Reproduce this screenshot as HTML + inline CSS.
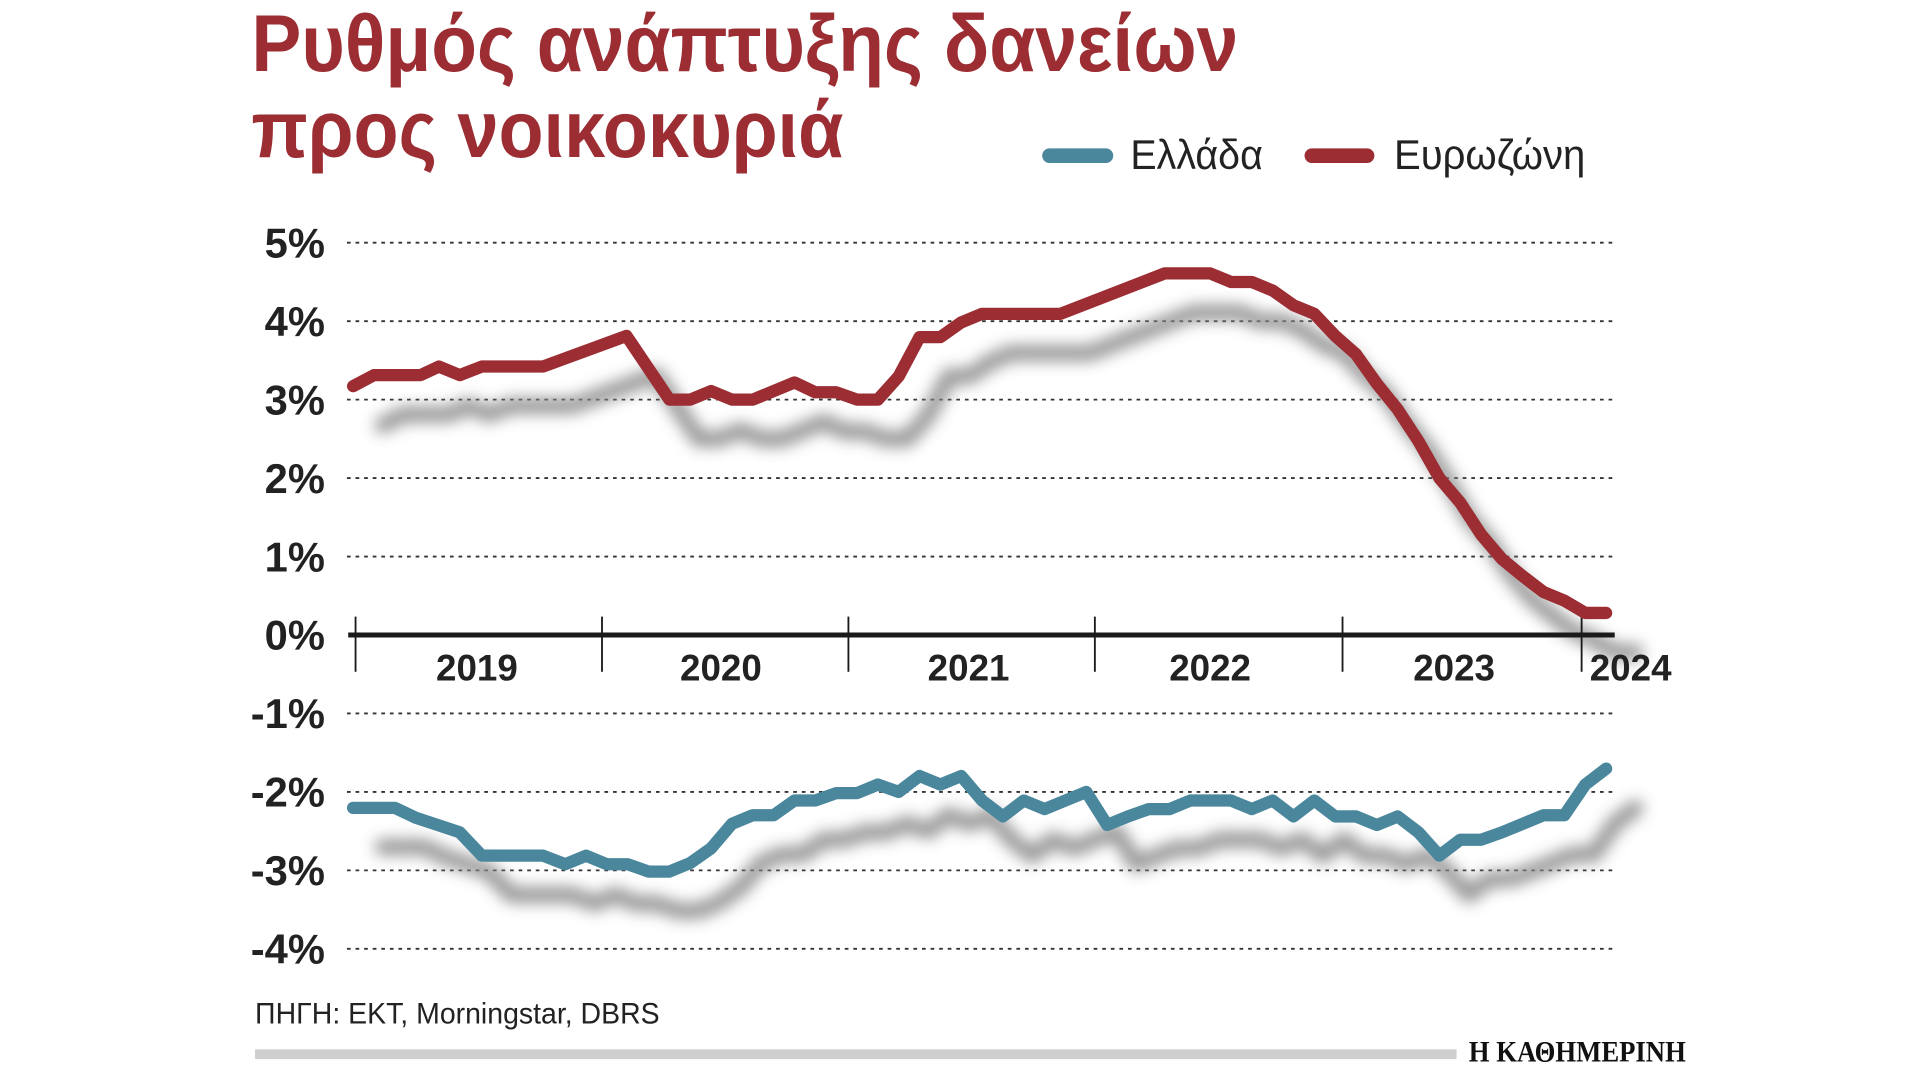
<!DOCTYPE html>
<html><head><meta charset="utf-8"><style>
html,body{margin:0;padding:0;background:#fff;}
svg{display:block;}
text{font-family:"Liberation Sans","DejaVu Sans",sans-serif;}
</style></head><body>
<svg width="1920" height="1080" viewBox="0 0 1566 881" preserveAspectRatio="none" xmlns="http://www.w3.org/2000/svg">
<defs>
<filter id="sh" x="-10%" y="-20%" width="120%" height="140%"><feGaussianBlur stdDeviation="6"/></filter>
</defs>
<text x="205" y="58" font-size="66" font-weight="bold" fill="#9b2d33" textLength="805" lengthAdjust="spacingAndGlyphs">Ρυθμός ανάπτυξης δανείων</text>
<text x="205" y="128" font-size="66" font-weight="bold" fill="#9b2d33" textLength="483" lengthAdjust="spacingAndGlyphs">προς νοικοκυριά</text>
<line x1="856" y1="127" x2="902" y2="127" stroke="#4a879d" stroke-width="12" stroke-linecap="round"/>
<text x="922" y="138" font-size="34" fill="#222" textLength="108" lengthAdjust="spacingAndGlyphs">Ελλάδα</text>
<line x1="1070" y1="127" x2="1115" y2="127" stroke="#9b2d33" stroke-width="12" stroke-linecap="round"/>
<text x="1137" y="138" font-size="34" fill="#222" textLength="156" lengthAdjust="spacingAndGlyphs">Ευρωζώνη</text>
<g stroke="#333" stroke-width="1.5" stroke-dasharray="3,4">
<line x1="283" y1="198" x2="1315" y2="198"/><line x1="283" y1="262" x2="1315" y2="262"/>
<line x1="283" y1="326" x2="1315" y2="326"/><line x1="283" y1="390" x2="1315" y2="390"/>
<line x1="283" y1="454" x2="1315" y2="454"/><line x1="283" y1="582" x2="1315" y2="582"/>
<line x1="283" y1="646" x2="1315" y2="646"/><line x1="283" y1="710" x2="1315" y2="710"/>
<line x1="283" y1="774" x2="1315" y2="774"/>
</g>
<g font-size="34" font-weight="bold" fill="#222" text-anchor="end">
<text x="265" y="210">5%</text><text x="265" y="274">4%</text><text x="265" y="338">3%</text>
<text x="265" y="402">2%</text><text x="265" y="466">1%</text><text x="265" y="530">0%</text>
<text x="265" y="594">-1%</text><text x="265" y="658">-2%</text><text x="265" y="722">-3%</text>
<text x="265" y="786">-4%</text>
</g>
<g stroke="#8a8a8a" stroke-width="13" fill="none" stroke-linejoin="round" stroke-linecap="round" filter="url(#sh)" opacity="0.9" transform="translate(24,32)">
<polyline points="288,315 305,306 343,306 358,299 375,306 393,299 443,299 511,274 546,326 563,326 580,319 597,326 614,326 648,312 665,320 682,320 699,326 716,326 733,307 750,275 767,275 784,263 801,256 865,256 950,223 987,223 1004,230 1021,230 1038,237 1055,249 1072,256 1089,274 1106,289 1123,313 1140,334 1157,360 1174,390 1191,410 1208,436 1225,456 1242,470 1259,483 1276,490 1293,500 1310,500"/>
<polyline points="288,659 322,659 339,667 375,679 393,698 443,698 461,705 478,698 495,705 512,705 529,711 546,711 563,704 580,692 597,672 614,665 631,665 648,653 665,653 682,647 699,647 716,640 733,646 750,633 767,640 784,633 801,653 818,666 835,653 852,660 869,653 886,646 903,673 920,666 937,660 954,660 971,653 1004,653 1021,660 1038,653 1055,666 1072,653 1089,666 1106,666 1123,673 1140,666 1157,679 1174,698 1191,685 1208,685 1225,679 1242,672 1259,665 1276,665 1293,640 1310,627"/>
</g>
<line x1="284" y1="518" x2="1317" y2="518" stroke="#1a1a1a" stroke-width="4"/>
<g stroke="#1a1a1a" stroke-width="1.5">
<line x1="290" y1="503" x2="290" y2="548"/><line x1="491" y1="503" x2="491" y2="548"/>
<line x1="692" y1="503" x2="692" y2="548"/><line x1="893" y1="503" x2="893" y2="548"/>
<line x1="1095" y1="503" x2="1095" y2="548"/><line x1="1290" y1="503" x2="1290" y2="548"/>
</g>
<g font-size="30" font-weight="bold" fill="#222" text-anchor="middle">
<text x="389" y="555">2019</text><text x="588" y="555">2020</text><text x="790" y="555">2021</text>
<text x="987" y="555">2022</text><text x="1186" y="555">2023</text><text x="1330" y="555">2024</text>
</g>
<g stroke-width="10" fill="none" stroke-linejoin="round" stroke-linecap="round">
<polyline stroke="#9b2d33" points="288,315 305,306 343,306 358,299 375,306 393,299 443,299 511,274 546,326 563,326 580,319 597,326 614,326 648,312 665,320 682,320 699,326 716,326 733,307 750,275 767,275 784,263 801,256 865,256 950,223 987,223 1004,230 1021,230 1038,237 1055,249 1072,256 1089,274 1106,289 1123,313 1140,334 1157,360 1174,390 1191,410 1208,436 1225,456 1242,470 1259,483 1276,490 1293,500 1310,500"/>
<polyline stroke="#4a879d" points="288,659 322,659 339,667 375,679 393,698 443,698 461,705 478,698 495,705 512,705 529,711 546,711 563,704 580,692 597,672 614,665 631,665 648,653 665,653 682,647 699,647 716,640 733,646 750,633 767,640 784,633 801,653 818,666 835,653 852,660 869,653 886,646 903,673 920,666 937,660 954,660 971,653 1004,653 1021,660 1038,653 1055,666 1072,653 1089,666 1106,666 1123,673 1140,666 1157,679 1174,698 1191,685 1208,685 1225,679 1242,672 1259,665 1276,665 1293,640 1310,627"/>
</g>
<text x="208" y="835" font-size="24" fill="#222" textLength="330" lengthAdjust="spacingAndGlyphs">ΠΗΓΗ: EKT, Morningstar, DBRS</text>
<rect x="208" y="856" width="980" height="8" fill="#cfcfcf"/>
<text x="1198" y="866" font-size="24" font-weight="bold" fill="#111" style="font-family:'Liberation Serif',serif" textLength="177" lengthAdjust="spacingAndGlyphs">Η ΚΑΘΗΜΕΡΙΝΗ</text>
</svg>
</body></html>
